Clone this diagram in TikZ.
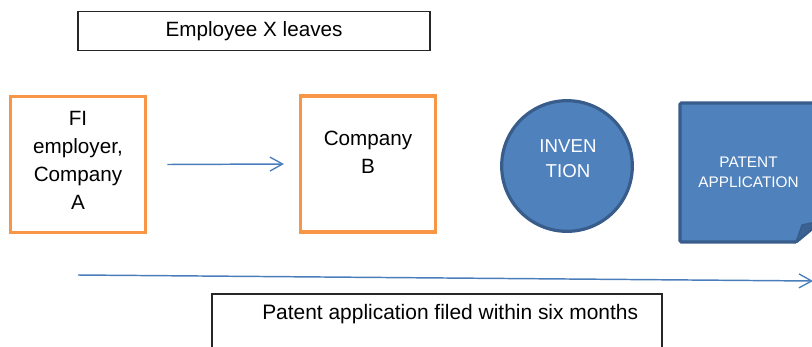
\documentclass[tikz,border=0pt]{standalone}
\usepackage{fontspec}
\setmainfont{Liberation Sans}
\usetikzlibrary{arrows.meta}
\definecolor{orng}{HTML}{F79646}
\definecolor{bfill}{HTML}{4F81BD}
\definecolor{bdark}{HTML}{385D8A}
\definecolor{arr}{HTML}{4A7EBB}
\tikzset{
  orangebox/.style={draw=orng, line width=2.6pt, minimum width=101.5pt, minimum height=102pt, inner sep=0pt},
  plainbox/.style={draw=black!85, line width=0.8pt, inner sep=0pt},
  txt/.style={font=\fontsize{15.5}{21}\selectfont, align=center, inner sep=0pt},
  flow/.style={draw=arr, line width=1.1pt, -{Straight Barb[length=9.5pt, width=10.5pt, line width=1pt]}}
}
\begin{document}
\begin{tikzpicture}[x=0.75pt, y=-0.75pt]
\useasboundingbox (0,0) rectangle (812,346);
% top box
\node[plainbox, minimum width=264pt, minimum height=29.5pt] (top) at (254,31) {};
\node[txt] (toptxt) at (254,31) {Employee X leaves};
% box A
\node[orangebox] (A) at (78,164.5) {};
\node[txt] (Atxt) at (78,160) {FI\\employer,\\Company\\A};
% box B
\node[orangebox] (B) at (368,164) {};
\node[txt] (Btxt) at (368,152) {Company\\B};
% arrow A -> B
\draw[flow] ([xshift=15pt]A.east) -- ([xshift=-11pt]B.west);
% circle
\node[circle, draw=bdark, fill=bfill, line width=2.4pt, minimum size=98pt, inner sep=0pt] (inv) at (567,166) {};
\node[txt, text=white, font=\fontsize{14}{18.75}\selectfont] (invtxt) at (568,158.5) {INVEN\\TION};
% patent application (folded corner)
\coordinate (pa) at (748.5,172);
\fill[bfill, draw=bdark, line width=2.4pt, rounded corners=1pt]
  (680,103) -- (820,103) -- (820,222) -- (796,242) -- (680,242) -- cycle;
\fill[bdark!85!bfill, draw=bdark, line width=1pt] (796,242) -- (802,225) -- (820,221) -- cycle;
\node[txt, text=white, font=\fontsize{11.5}{15}\selectfont] (patxt) at (pa) {PATENT\\APPLICATION};
% long arrow
\coordinate (ls) at (78,275);
\coordinate (le) at (813,281);
\draw[flow] (ls) -- (le);
% bottom box
\draw[plainbox] (212,294) rectangle (662,360);
\node[txt, anchor=west, font=\fontsize{15.7}{21}\selectfont] (bottxt) at (262,314) {Patent application filed within six months};
\end{tikzpicture}
\end{document}
